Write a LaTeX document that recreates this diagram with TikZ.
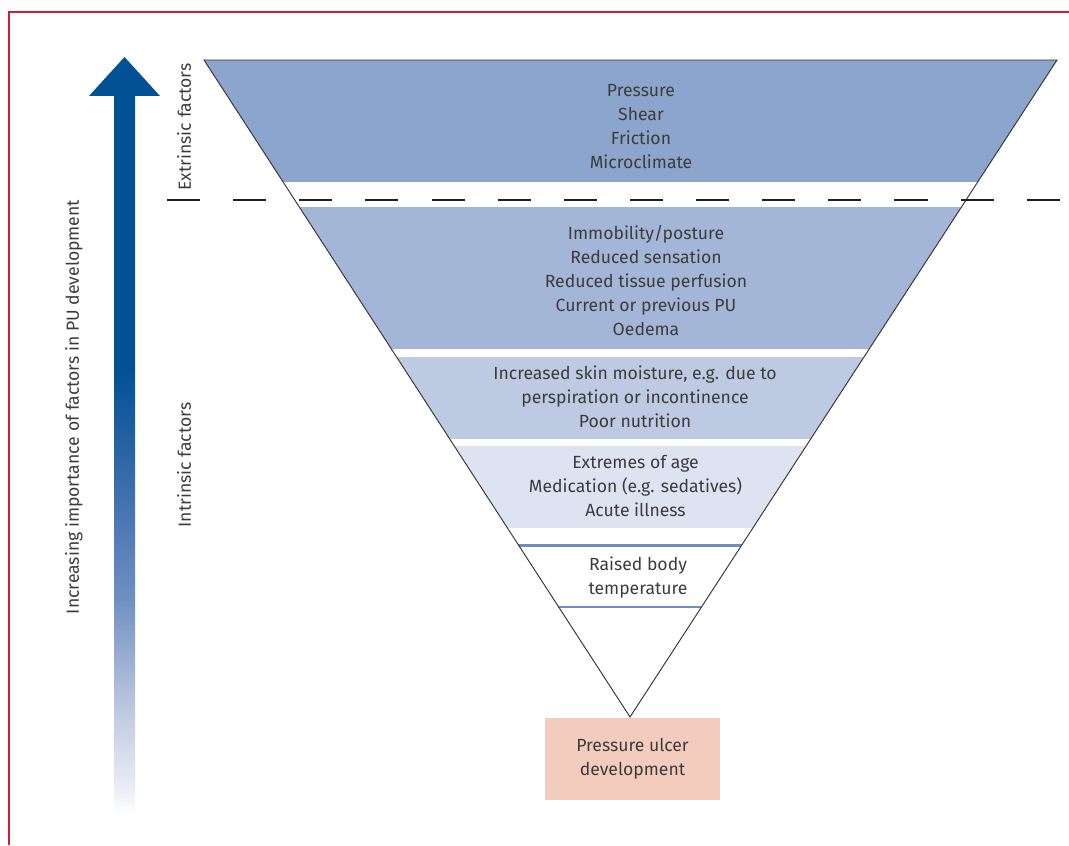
\documentclass[tikz,border=0pt]{standalone}
\usepackage{fontspec}
\setmainfont{Fira Sans}
\begin{document}
\definecolor{txt}{RGB}{60,60,60}
\definecolor{bandA}{RGB}{139,165,204}
\definecolor{bandB}{RGB}{163,182,215}
\definecolor{bandC}{RGB}{190,201,226}
\definecolor{bandD}{RGB}{221,227,241}
\definecolor{lineblue}{RGB}{110,142,192}
\definecolor{pubox}{RGB}{243,204,189}
\definecolor{redframe}{RGB}{210,30,50}
\definecolor{arrowblue}{RGB}{0,82,148}
\definecolor{sA}{RGB}{235,238,245}
\definecolor{sB}{RGB}{195,205,228}
\definecolor{sC}{RGB}{155,175,210}
\definecolor{sD}{RGB}{110,145,195}
\definecolor{sE}{RGB}{85,125,185}
\definecolor{sF}{RGB}{40,100,165}
\pgfdeclareverticalshading{arrowfade}{100bp}{color(0bp)=(white); color(25bp)=(white); color(26.6bp)=(sA); color(31.5bp)=(sB); color(35.7bp)=(sC); color(39.9bp)=(sD); color(44bp)=(sE); color(50.3bp)=(sF); color(55.9bp)=(arrowblue); color(100bp)=(arrowblue)}
\begin{tikzpicture}[x=0.75pt,y=-0.75pt,
  lbl/.style={text=txt,font=\fontsize{13.2pt}{18pt}\selectfont,align=center,inner sep=0pt},
  rlbl/.style={lbl,rotate=90}]
\useasboundingbox (0,0) rectangle (1069,845);
% frame
\draw[redframe,line width=2pt] (9,845) -- (9,12) -- (1069,12);
% arrow
\shade[shading=arrowfade] (114,96) rectangle (135,813);
\fill[arrowblue] (89,96) -- (124.5,57) -- (160,96) -- cycle;
% triangle bands
\coordinate (tl) at (204,60);
\coordinate (tr) at (1057,60);
\coordinate (apex) at (630,717);
\begin{scope}
\clip (tl) -- (tr) -- (apex) -- cycle;
\fill[bandA] (150,60) rectangle (1069,181.5);
\fill[bandB] (150,207) rectangle (1069,349);
\fill[bandC] (150,357) rectangle (1069,439);
\fill[bandD] (150,446) rectangle (1069,527.5);
\draw[lineblue,line width=2.2pt] (150,545.5) -- (1069,545.5);
\draw[lineblue,line width=2.2pt] (150,607) -- (1069,607);
\end{scope}
\draw[black!80,line width=0.7pt] (tl) -- (tr) -- (apex) -- cycle;
% dashed separator
\draw[black!88,line width=2.2pt,dash pattern=on 24.8pt off 24.8pt] (167,200) -- (1060,200);
% texts
\node[lbl] (t1) at (641,127) {Pressure\\Shear\\Friction\\Microclimate};
\node[lbl] (t2) at (646,281) {Immobility/posture\\Reduced sensation\\Reduced tissue perfusion\\Current or previous PU\\Oedema};
\node[lbl] (t3) at (635,397) {Increased skin moisture, e.g. due to\\perspiration or incontinence\\Poor nutrition};
\node[lbl] (t4) at (635.5,486) {Extremes of age\\Medication (e.g. sedatives)\\Acute illness};
\node[lbl] (t5) at (638,578) {Raised body\\temperature};
\node[lbl,fill=pubox,minimum width=131.25pt,minimum height=61.5pt] (pu) at (632.5,759) {Pressure ulcer\\development};
\node[rlbl] (ext) at (184,127) {Extrinsic factors};
\node[rlbl] (int) at (184,465) {Intrinsic factors};
\node[rlbl] (inc) at (74,407) {Increasing importance of factors in PU development};
\end{tikzpicture}
\end{document}
